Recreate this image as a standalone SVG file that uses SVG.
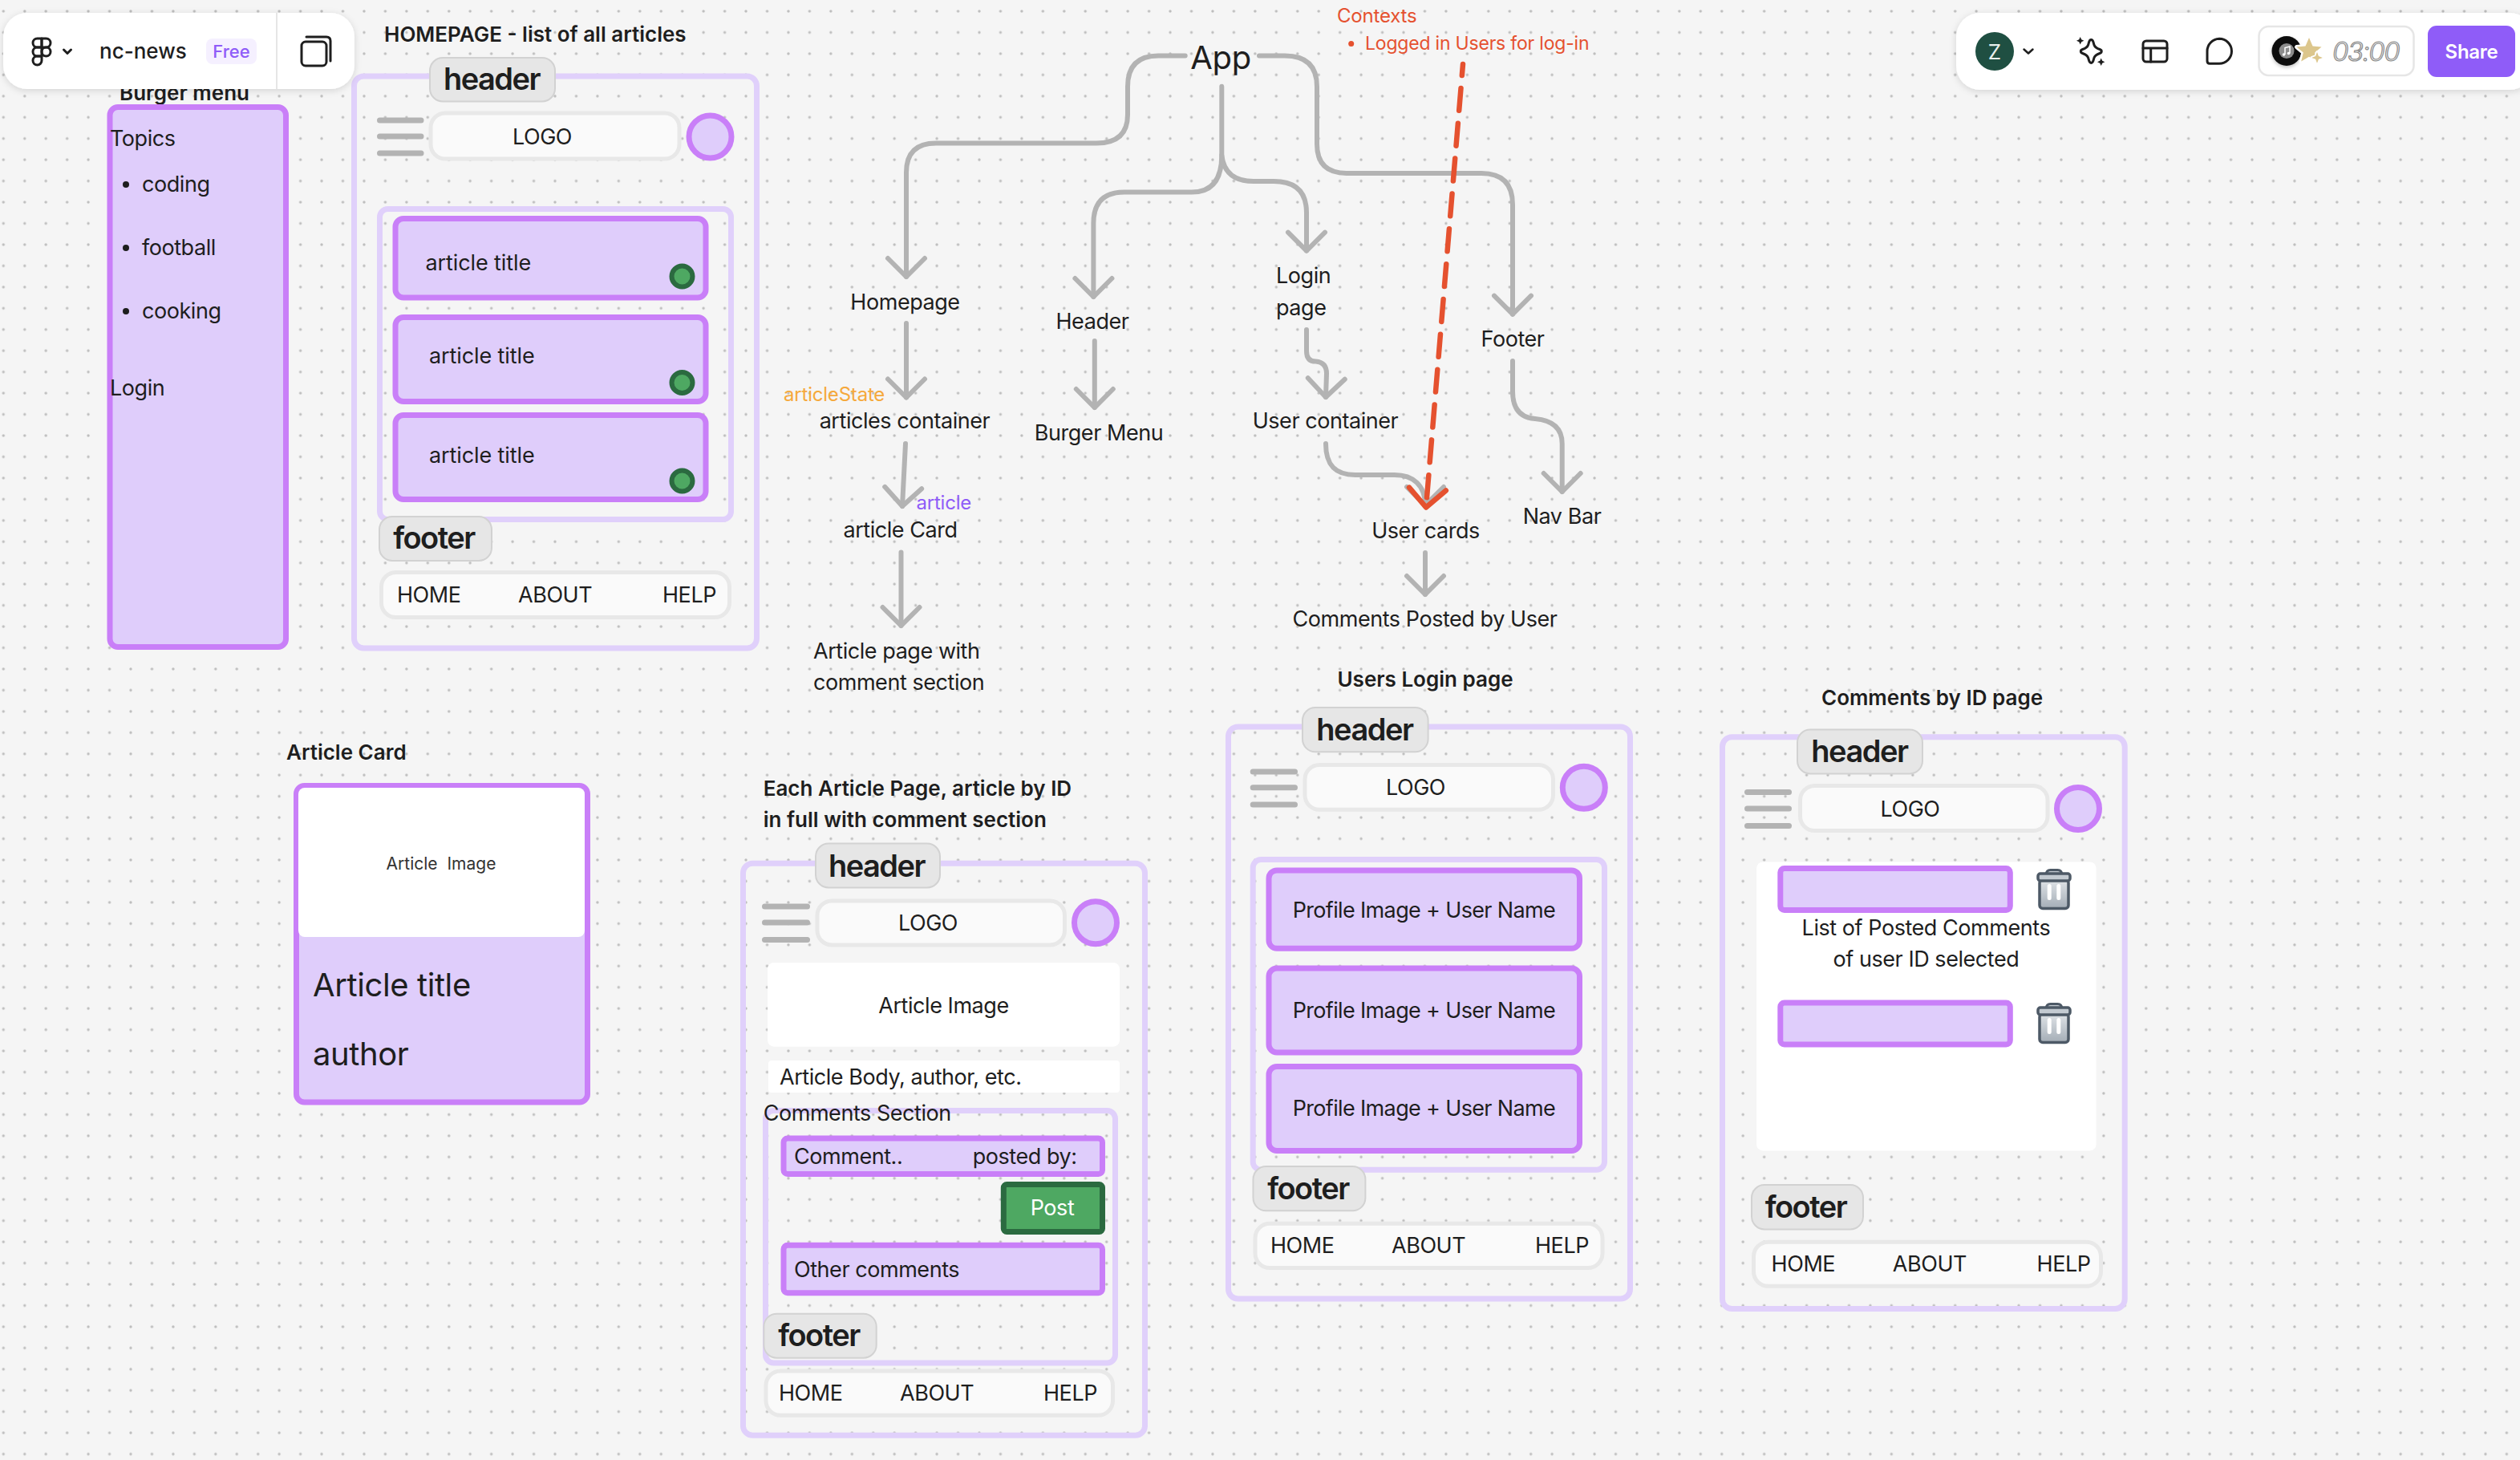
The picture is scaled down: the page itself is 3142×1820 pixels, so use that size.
<svg xmlns="http://www.w3.org/2000/svg" width="3142" height="1820" viewBox="0 0 3142 1820">
<style>
text{font-family:Inter,"Noto Sans","Liberation Sans",sans-serif;font-size:27px;fill:#1e1e1e;dominant-baseline:central;letter-spacing:-.45px}
.m{text-anchor:middle}
.b{font-weight:600;font-size:26px;letter-spacing:0}
.tag{font-size:38px;font-weight:600;text-anchor:middle;letter-spacing:-1.5px}
.sm{font-size:24px;letter-spacing:-.2px}
.pr{letter-spacing:-.65px}
.at{letter-spacing:-.1px}
.tagr{fill:#e6e6e6;stroke:#d2d2d2;stroke-width:2}
.fr{fill:none;stroke:#e0d0fb;stroke-width:7}
.card{fill:#dfcdfb;stroke:#c97ff8;stroke-width:7}
.pill{fill:#fafafa;stroke:#e8e8e8;stroke-width:5}
.av{fill:#dfcdfb;stroke:#c97ff8;stroke-width:7}
.bar{fill:#b3b3b3}
.dot{fill:#4ea862;stroke:#2b6a40;stroke-width:6}
.wh{fill:#fff}
.con{fill:none;stroke:#b3b3b3;stroke-width:6;stroke-linecap:round;stroke-linejoin:round;marker-end:url(#arr)}
.ico{fill:none;stroke:#1e1e1e;stroke-width:3;stroke-linejoin:round;stroke-linecap:round}
</style>
<defs>
<pattern id="grid" x="4.3" y="14" width="26.45" height="26.45" patternUnits="userSpaceOnUse"><circle cx="0" cy="0" r="1.7" fill="#bdbdbd"/><circle cx="26.45" cy="0" r="1.7" fill="#bdbdbd"/><circle cx="0" cy="26.45" r="1.7" fill="#bdbdbd"/><circle cx="26.45" cy="26.45" r="1.7" fill="#bdbdbd"/></pattern>
<marker id="arr" viewBox="-30 -30 36 60" refX="0" refY="0" markerWidth="36" markerHeight="60" markerUnits="userSpaceOnUse" orient="auto"><path d="M-23-23L0 0L-23 23" fill="none" stroke="#b3b3b3" stroke-width="6" stroke-linecap="round" stroke-linejoin="round"/></marker>
<marker id="arr2" viewBox="-30 -30 36 60" refX="0" refY="0" markerWidth="36" markerHeight="60" markerUnits="userSpaceOnUse" orient="auto"><path d="M-23-23L0 0L-23 23" fill="none" stroke="#e5512f" stroke-width="6.5" stroke-linecap="round" stroke-linejoin="round"/></marker>
<filter id="sh" x="-5%" y="-20%" width="110%" height="150%"><feDropShadow dx="0" dy="2" stdDeviation="4" flood-color="#000" flood-opacity=".14"/></filter>
<filter id="sh2" x="-30%" y="-30%" width="160%" height="160%"><feDropShadow dx="0" dy="2" stdDeviation="2" flood-color="#000" flood-opacity=".25"/></filter>
<linearGradient id="tb" x1="0" y1="0" x2="0" y2="1"><stop offset="0" stop-color="#dfe3e7"/><stop offset="1" stop-color="#a4adb6"/></linearGradient>
<g id="trash"><path d="M12 6Q12 1 17 1H26Q31 1 31 6" fill="#c3cad1" stroke="#4d5966" stroke-width="3"/><rect x="3.500" y="13" width="36" height="36" rx="4" fill="url(#tb)" stroke="#4d5966" stroke-width="3.500"/><rect x="1.500" y="5.500" width="40" height="9" rx="3" fill="#c3cad1" stroke="#4d5966" stroke-width="3.500"/><path d="M15.700 21V36M27.300 21V36" stroke="#fff" stroke-width="5" stroke-linecap="round"/></g>
</defs>
<rect width="3142" height="1820" fill="#f5f5f5"/>
<rect width="3142" height="1820" fill="url(#grid)"/>

<g id="connectors">
<path class="con" d="M1477.7 69.6H1444Q1406 69.6 1406 108V143Q1406 178.5 1367 178.5H1167Q1130 178.5 1130 215V345"/>
<path class="con" d="M1570 69.6H1602Q1642 69.6 1642 108V179.6Q1642 216 1679 216H1847Q1886 216 1886 255V391.7"/>
<path class="con" d="M1523.3 107.7V193.6Q1523.3 239.6 1486 239.6H1402Q1363.4 239.6 1363.4 278V370"/>
<path class="con" d="M1523.3 193.6Q1527 226 1563 226H1588Q1629 226 1629 265V312.6"/>
<path class="con" d="M1130 403V495.5"/>
<path class="con" d="M1129 553L1125 631"/>
<path class="con" d="M1123.5 688.5V780"/>
<path class="con" d="M1364.8 425V508"/>
<path class="con" d="M1629 411V437.7Q1629 450.6 1640.5 450.6Q1654 451.7 1654 465.8L1653 495"/>
<path class="con" d="M1653 553C1653 580 1665 592 1689.6 592H1738.7C1762 592 1777 605 1777 630"/>
<path class="con" d="M1886 450V488Q1886 520 1914 522Q1947.7 525 1947.7 553V613"/>
<path class="con" d="M1777 689V741"/>
<path d="M1824 80L1778 632.5" fill="none" stroke="#e5512f" stroke-width="6.500" stroke-linecap="round" stroke-dasharray="28 16" stroke-dashoffset="14" marker-end="url(#arr2)"/>
</g>

<g id="app"><text class="m" x="1522" y="71" style="font-size:40px;letter-spacing:-.3px">App</text></g>
<g id="contexts"><text class="sm" x="1667" y="19.6" style="fill:#e5512f">Contexts</text><circle cx="1684.7" cy="54.4" r="3.5" fill="#e5512f"/><text x="1702" y="54.4" style="fill:#e5512f;font-size:23px;letter-spacing:-.2px">Logged in Users for log-in</text></g>
<g id="n-homepage"><text class="m" x="1128.5" y="376">Homepage</text></g>
<g id="n-header"><text class="m" x="1362" y="400">Header</text></g>
<g id="n-login"><text x="1591" y="343">Login</text><text x="1591" y="383">page</text></g>
<g id="n-footer"><text class="m" x="1886" y="422">Footer</text></g>
<g id="n-articles"><text class="m" x="1128" y="524.5">articles container</text></g>
<g id="n-burger"><text class="m" x="1370" y="539.5">Burger Menu</text></g>
<g id="n-usercontainer"><text class="m" x="1652.5" y="524.5">User container</text></g>
<g id="n-articlestate"><text class="sm" x="977" y="491.500" style="fill:#f5a93c">articleState</text></g>
<g id="n-article"><text class="sm" x="1142.4" y="626.8" style="fill:#8f5cf8">article</text></g>
<g id="n-card"><text class="m" x="1122.5" y="660.500">article Card</text></g>
<g id="n-usercards"><text class="m" x="1777.5" y="661.500">User cards</text></g>
<g id="n-navbar"><text class="m" x="1947.5" y="643.500">Nav Bar</text></g>
<g id="n-comments"><text class="m" x="1776.500" y="771">Comments Posted by User</text></g>
<g id="n-articlepage"><text x="1014" y="811">Article page with</text><text x="1014" y="850.2">comment section</text></g>

<g id="burger-menu">
<text class="b m" x="230" y="115">Burger menu</text>
<rect class="card" x="137" y="133.5" width="219.5" height="673" rx="10"/>
<text x="137" y="172">Topics</text>
<circle cx="157" cy="230" r="4" fill="#1e1e1e"/><text x="177" y="229">coding</text>
<circle cx="157" cy="309" r="4" fill="#1e1e1e"/><text x="177" y="308">football</text>
<circle cx="157" cy="388" r="4" fill="#1e1e1e"/><text x="177" y="387.500">cooking</text>
<text x="137" y="483">Login</text>
</g>

<g id="homepage">
<text class="b" x="479" y="42">HOMEPAGE - list of all articles</text>
<rect class="fr" x="441.5" y="95" width="502" height="713" rx="12"/>
<rect class="tagr" x="536" y="72" width="156" height="54.5" rx="16"/><text class="tag" x="613" y="98">header</text>
<rect class="bar" x="470" y="146.5" width="58.5" height="7" rx="3.5"/><rect class="bar" x="470" y="166.5" width="58.5" height="7" rx="3.5"/><rect class="bar" x="470" y="187.5" width="58.5" height="7" rx="3.5"/>
<rect class="pill" x="537" y="141" width="310" height="57" rx="18"/><text class="m" x="676" y="170.500">LOGO</text>
<circle class="av" cx="885.5" cy="170.5" r="26.5"/>
<rect class="fr" x="473.5" y="260.5" width="438" height="387" rx="10"/>
<rect class="card" x="493" y="272.5" width="387" height="98.5" rx="10"/><text class="at" x="530.5" y="327">article title</text><circle class="dot" cx="850.500" cy="344.500" r="13"/>
<rect class="card" x="493" y="395.5" width="387" height="105" rx="10"/><text class="at" x="535" y="443.500">article title</text><circle class="dot" cx="850.500" cy="477" r="13"/>
<rect class="card" x="493" y="517.5" width="387" height="105" rx="10"/><text class="at" x="535" y="567.500">article title</text><circle class="dot" cx="850.500" cy="599.500" r="13"/>
<rect class="tagr" x="473" y="644" width="140" height="55" rx="16"/><text class="tag" x="541" y="670">footer</text>
<rect class="pill" x="475.5" y="713.5" width="434" height="56" rx="18"/><text x="495" y="741">HOME</text><text x="646" y="741">ABOUT</text><text x="826" y="741">HELP</text>
</g>

<g id="article-card">
<text class="b" x="357" y="937.500">Article Card</text>
<rect class="card" x="369.5" y="979.5" width="363" height="394.5" rx="10"/>
<rect class="wh" x="372" y="982" width="357" height="186" rx="8"/>
<text class="m" x="550" y="1076.8" style="font-size:21px;fill:#333;letter-spacing:0;word-spacing:6px">Article Image</text>
<text x="390" y="1227" style="font-size:40px;letter-spacing:-.4px">Article title</text>
<text x="390" y="1313" style="font-size:40px;letter-spacing:-.4px">author</text>
</g>

<g id="article-page">
<text class="b" x="951.7" y="982.2">Each Article Page, article by ID</text>
<text class="b" x="951.7" y="1021.8">in full with comment section</text>
<rect class="fr" x="926.5" y="1076.3" width="501" height="713" rx="12"/>
<rect class="tagr" x="1017" y="1051.5" width="155" height="55" rx="16"/><text class="tag" x="1093" y="1078.5">header</text>
<rect class="bar" x="950" y="1126.5" width="60" height="7" rx="3.5"/><rect class="bar" x="950" y="1146.5" width="60" height="7" rx="3.5"/><rect class="bar" x="950" y="1168" width="60" height="7" rx="3.5"/>
<rect class="pill" x="1019" y="1122.9" width="308.5" height="55" rx="18"/><text class="m" x="1157" y="1150.5">LOGO</text>
<circle class="av" cx="1366" cy="1150.3" r="26.5"/>
<rect class="wh" x="957" y="1200" width="439" height="104.7" rx="8"/><text class="m" x="1176.500" y="1253">Article Image</text>
<rect class="wh" x="958" y="1322" width="438" height="40" rx="4"/><text x="972" y="1342">Article Body, author, etc.</text>
<rect class="fr" x="954.5" y="1384.5" width="436" height="314.5" rx="10"/>
<text x="951.7" y="1387">Comments Section</text>
<rect class="card" x="977" y="1419" width="397.5" height="44.5" rx="5"/><text x="990" y="1441.500">Comment..</text><text x="1212.7" y="1441.500">posted by:</text>
<rect x="1251.3" y="1476.5" width="123.2" height="59" rx="4" fill="#4ea862" stroke="#2b6a40" stroke-width="7"/><text class="m" x="1312" y="1505" style="fill:#fff">Post</text>
<rect class="card" x="977" y="1552.2" width="397.5" height="59.6" rx="5"/><text x="990" y="1582">Other comments</text>
<rect class="tagr" x="952.4" y="1637.7" width="140.3" height="55" rx="16"/><text class="tag" x="1021" y="1664">footer</text>
<rect class="pill" x="955" y="1709" width="432.5" height="55.3" rx="18"/><text x="971" y="1736.5">HOME</text><text x="1122" y="1736.5">ABOUT</text><text x="1301" y="1736.5">HELP</text>
</g>

<g id="users-login">
<text class="b m" x="1777" y="846.8">Users Login page</text>
<rect class="fr" x="1531.5" y="906" width="501" height="713" rx="12"/>
<rect class="tagr" x="1624" y="882" width="156.6" height="55.3" rx="16"/><text class="tag" x="1701.4" y="909">header</text>
<rect class="bar" x="1558.7" y="958.5" width="59.3" height="7" rx="3.5"/><rect class="bar" x="1558.7" y="978.3" width="59.3" height="7" rx="3.5"/><rect class="bar" x="1558.7" y="999.5" width="59.3" height="7" rx="3.5"/>
<rect class="pill" x="1627" y="953.5" width="309.500" height="55.8" rx="18"/><text class="m" x="1765" y="981.8">LOGO</text>
<circle class="av" cx="1974.8" cy="981.8" r="26.5"/>
<rect class="fr" x="1562.2" y="1071.5" width="438.3" height="386.7" rx="10"/>
<rect class="card" x="1582" y="1084.9" width="387.500" height="97.4" rx="10"/><text class="m pr" x="1775.4" y="1134.500">Profile Image + User Name</text>
<rect class="card" x="1582" y="1207" width="387.500" height="104.9" rx="10"/><text class="m pr" x="1775.4" y="1259.500">Profile Image + User Name</text>
<rect class="card" x="1582" y="1329.5" width="387.500" height="105" rx="10"/><text class="m pr" x="1775.4" y="1381.9">Profile Image + User Name</text>
<rect class="tagr" x="1562.5" y="1454" width="139.9" height="55.3" rx="16"/><text class="tag" x="1631" y="1481">footer</text>
<rect class="pill" x="1565" y="1525.2" width="433" height="55.3" rx="18"/><text x="1584" y="1552.5">HOME</text><text x="1735" y="1552.5">ABOUT</text><text x="1914" y="1552.5">HELP</text>
</g>

<g id="comments-page">
<text class="b m" x="2409" y="869.8">Comments by ID page</text>
<rect class="fr" x="2147.5" y="918.8" width="501.7" height="712.7" rx="12"/>
<rect class="tagr" x="2241" y="909.5" width="156" height="55" rx="16"/><text class="tag" x="2318.4" y="936">header</text>
<rect class="bar" x="2175" y="984" width="59" height="7" rx="3.5"/><rect class="bar" x="2175" y="1004.5" width="59" height="7" rx="3.5"/><rect class="bar" x="2175" y="1026" width="59" height="7" rx="3.5"/>
<rect class="pill" x="2244.500" y="979.5" width="308.500" height="56" rx="18"/><text class="m" x="2381.500" y="1008">LOGO</text>
<circle class="av" cx="2591" cy="1008" r="26.5"/>
<rect class="wh" x="2190" y="1074.4" width="423.6" height="360" rx="8"/>
<rect class="card" x="2219.8" y="1082.5" width="286.5" height="52" rx="5"/>
<use href="#trash" x="2539.500" y="1083.500"/>
<text class="m" x="2401.4" y="1156">List of Posted Comments</text><text class="m" x="2401.4" y="1195.500">of user ID selected</text>
<rect class="card" x="2219.8" y="1249.9" width="286.5" height="52" rx="5"/>
<use href="#trash" x="2539.500" y="1250.500"/>
<rect class="tagr" x="2184" y="1477" width="139" height="55.4" rx="16"/><text class="tag" x="2251.500" y="1504">footer</text>
<rect class="pill" x="2186.5" y="1548.3" width="433" height="55" rx="18"/><text x="2208.6" y="1575.5">HOME</text><text x="2359.8" y="1575.5">ABOUT</text><text x="2539.6" y="1575.5">HELP</text>
</g>

<g id="toolbar-left">
<rect x="4" y="16" width="438" height="95" rx="30" fill="#fff" filter="url(#sh)"/>
<path d="M345 16V111" stroke="#e6e6e6" stroke-width="2"/>
<g class="ico"><path d="M52 48H46.500a5.500 5.500 0 0 0 0 11H52Z"/><path d="M52 48H57.500a5.500 5.500 0 0 1 0 11H52Z"/><path d="M52 59H46.500a5.500 5.500 0 0 0 0 11H52Z"/><circle cx="57.500" cy="64.500" r="5.500"/><path d="M52 70H46.500a5.500 5.500 0 1 0 5.500 5.500Z"/></g>
<path class="ico" d="M79.500 62L84 66.500L88.500 62"/>
<text x="124" y="63" style="font-weight:500;font-size:26px;letter-spacing:0">nc-news</text>
<rect x="257" y="48" width="63" height="32" rx="8" fill="#f5f0ff"/><text class="m" x="288.5" y="64" style="font-size:22px;fill:#8f5cf8;font-weight:500;letter-spacing:0">Free</text>
<rect class="ico" x="376" y="52" width="31" height="30" rx="5"/><path class="ico" d="M382 46H407Q412 46 412 51V76"/>
</g>

<g id="toolbar-right">
<rect x="2439" y="16" width="720" height="96" rx="30" fill="#fff" filter="url(#sh)"/>
<circle cx="2487" cy="64" r="24" fill="#1f4f42"/><text class="m" x="2487" y="64" style="fill:#e8f0ec;font-size:26px;letter-spacing:0">Z</text>
<path class="ico" d="M2523.500 61.500L2529 66.500L2534.500 61.500" style="stroke-width:2.500"/>
<path class="ico" d="M2607.300 49.500C2610 49.500 2610 53 2611 56C2612 59 2615 60.500 2618 61.500C2621 62.500 2621 65.500 2618 66.500C2615 67.500 2612 69 2611 72C2610 75 2610 78.500 2607.300 78.500C2604.600 78.500 2604.600 75 2603.600 72C2602.600 69 2599.600 67.500 2596.600 66.500C2593.600 65.500 2593.600 62.500 2596.600 61.500C2599.600 60.500 2602.600 59 2603.600 56C2604.600 53 2604.600 49.500 2607.300 49.500Z"/>
<path d="M2593.700 46l1.500 3.200 3.200 1.500-3.200 1.500-1.500 3.200-1.500-3.200-3.200-1.500 3.200-1.500ZM2619.700 72.600l1.500 3.200 3.200 1.500-3.200 1.500-1.500 3.200-1.500-3.200-3.200-1.500 3.200-1.500Z" fill="#1e1e1e"/>
<rect class="ico" x="2672" y="51" width="30" height="26" rx="4"/><path class="ico" d="M2672 60H2702M2681.700 60V77"/>
<path class="ico" d="M2767 48.300A15.500 15.500 0 1 1 2767 79.300H2755Q2752 79.300 2752 76V63.800A15.500 15.500 0 0 1 2767 48.300Z"/>
<rect x="2816.500" y="33" width="193" height="61" rx="12" fill="#fff" stroke="#e6e6e6" stroke-width="2.500"/>
<circle cx="2851" cy="63.500" r="18.500" fill="#111" filter="url(#sh2)"/><circle cx="2851" cy="63.500" r="9.500" fill="#8c8c8c"/>
<path d="M2849 68V59.500L2855 58V66.500" fill="none" stroke="#fff" stroke-width="1.500"/><circle cx="2847.500" cy="68" r="1.800" fill="#fff"/><circle cx="2853.500" cy="66.500" r="1.800" fill="#fff"/>
<path d="M2879 47l4.500 10.500 11 1-8.300 7 2.600 11-9.800-5.800-9.800 5.800 2.600-11-8.300-7 11-1Z" fill="#dcc68c" stroke="#fff" stroke-width="5" stroke-linejoin="round" paint-order="stroke"/>
<path d="M2889 65l1.900 5 5 1.900-5 1.900-1.900 5-1.900-5-5-1.900 5-1.900Z" fill="#dcc68c" stroke="#fff" stroke-width="3.500" stroke-linejoin="round" paint-order="stroke"/>
<text x="2908" y="64" style="font-style:italic;font-weight:300;font-size:33px;letter-spacing:-1.500px;fill:#f0f0f0;stroke:#8a8a8a;stroke-width:1.200px">03:00</text>
<rect x="3027" y="32" width="109" height="64" rx="11" fill="#8f5cf8"/><text class="m" x="3081.500" y="64" style="fill:#fff;font-weight:600;font-size:24px;letter-spacing:-.3px">Share</text>
</g>
</svg>
